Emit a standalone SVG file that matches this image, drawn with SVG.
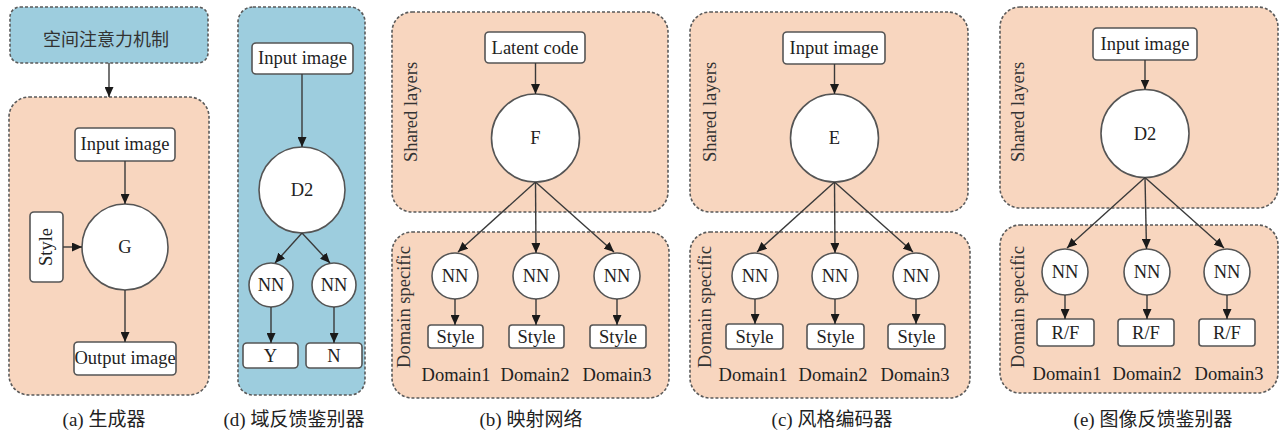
<svg xmlns="http://www.w3.org/2000/svg" width="1282" height="443" viewBox="0 0 1282 443">
  <style>
    .bg { fill: #ffffff; }
    .blue { fill: #9dcdde; stroke: #5a5a5a; stroke-width: 1.6; stroke-dasharray: 3 2; }
    .peach { fill: #f8d6bf; stroke: #5a5a5a; stroke-width: 1.6; stroke-dasharray: 3 2; }
    .box { fill: #ffffff; stroke: #555555; stroke-width: 1.6; }
    .circ { fill: #ffffff; stroke: #555555; stroke-width: 1.6; }
    .t { font-family: "Liberation Serif", "Times New Roman", serif; font-size: 18.5px; fill: #222222; text-anchor: middle; }
    .side { font-family: "Liberation Serif", "Times New Roman", serif; font-size: 18.5px; fill: #333333; text-anchor: middle; }
    .cap { font-family: "Liberation Serif", "Noto Sans CJK SC", serif; font-size: 19px; fill: #222222; text-anchor: middle; }
    .cjk { font-family: "Noto Sans CJK SC", sans-serif; font-size: 18px; fill: #333333; text-anchor: middle; }
    .edge { stroke: #3a3a3a; stroke-width: 1.4; fill: none; marker-end: url(#arr); }
  </style>
  <defs>
    <marker id="arr" markerUnits="userSpaceOnUse" markerWidth="10" markerHeight="9" refX="10" refY="4.5" orient="auto">
      <path d="M0,0 L10,4.5 L0,9 z" fill="#1a1a1a"/>
    </marker>
  </defs>

  <rect class="bg" x="0" y="0" width="1282" height="443"/>

  <!-- (a) generator -->
  <g id="panel-a">
    <rect class="blue" x="10" y="7" width="198" height="56" rx="10"/>
    <text class="cjk" x="106" y="46">空间注意力机制</text>
    <rect class="peach" x="9" y="97" width="200" height="298" rx="20"/>
    <text class="cap" x="104" y="426">(a) 生成器</text>
  </g>
  <g id="a-input"><rect class="box" x="75" y="128" width="100" height="33" rx="4"/><text class="t" x="125" y="150">Input image</text></g>
  <g id="a-G"><circle class="circ" cx="125" cy="247" r="43"/><text class="t" x="125" y="253">G</text></g>
  <g id="a-style"><rect class="box" x="30" y="212" width="33" height="70" rx="4"/><text class="t" transform="translate(52,247) rotate(-90)">Style</text></g>
  <g id="a-output"><rect class="box" x="74" y="342" width="102" height="33" rx="4"/><text class="t" x="125" y="364">Output image</text></g>

  <!-- (d) domain feedback discriminator -->
  <g id="panel-d">
    <rect class="blue" x="238" y="7" width="127" height="388" rx="15"/>
    <text class="cap" x="294" y="426">(d) 域反馈鉴别器</text>
  </g>
  <g id="d-input"><rect class="box" x="252" y="43" width="101" height="31" rx="4"/><text class="t" x="302.5" y="64">Input image</text></g>
  <g id="d-D2"><circle class="circ" cx="302" cy="190" r="43"/><text class="t" x="302" y="196">D2</text></g>
  <g id="d-nn1"><circle class="circ" cx="271" cy="285" r="22"/><text class="t" x="271" y="291">NN</text></g>
  <g id="d-nn2"><circle class="circ" cx="334" cy="285" r="22"/><text class="t" x="334" y="291">NN</text></g>
  <g id="d-Y"><rect class="box" x="243" y="343" width="55" height="25" rx="4"/><text class="t" x="270.5" y="362">Y</text></g>
  <g id="d-N"><rect class="box" x="306" y="343" width="56" height="25" rx="4"/><text class="t" x="334" y="362">N</text></g>

  <!-- (b) mapping network -->
  <g id="panel-b">
    <rect class="peach" x="392" y="12" width="276" height="200" rx="20"/>
    <rect class="peach" x="392" y="232" width="277" height="166" rx="20"/>
    <text class="side" transform="translate(417,112) rotate(-90)">Shared layers</text>
    <text class="side" transform="translate(410,307) rotate(-90)">Domain specific</text>
    <text class="t" x="456" y="381">Domain1</text>
    <text class="t" x="535" y="381">Domain2</text>
    <text class="t" x="617" y="381">Domain3</text>
    <text class="cap" x="531" y="426">(b) 映射网络</text>
  </g>
  <g id="b-latent"><rect class="box" x="485" y="32" width="100" height="31" rx="4"/><text class="t" x="535" y="54">Latent code</text></g>
  <g id="b-F"><circle class="circ" cx="535.5" cy="138" r="44"/><text class="t" x="535.5" y="144">F</text></g>
  <g id="b-nn1"><circle class="circ" cx="455" cy="276" r="23"/><text class="t" x="455" y="282">NN</text></g>
  <g id="b-nn2"><circle class="circ" cx="536" cy="276" r="23"/><text class="t" x="536" y="282">NN</text></g>
  <g id="b-nn3"><circle class="circ" cx="617" cy="276" r="23"/><text class="t" x="617" y="282">NN</text></g>
  <g id="b-style1"><rect class="box" x="428" y="325" width="55" height="23" rx="3"/><text class="t" x="455.5" y="343">Style</text></g>
  <g id="b-style2"><rect class="box" x="509" y="325" width="55" height="23" rx="3"/><text class="t" x="536.5" y="343">Style</text></g>
  <g id="b-style3"><rect class="box" x="590" y="325" width="56" height="23" rx="3"/><text class="t" x="618" y="343">Style</text></g>

  <!-- (c) style encoder -->
  <g id="panel-c">
    <rect class="peach" x="690" y="12" width="278" height="200" rx="20"/>
    <rect class="peach" x="690" y="232" width="280" height="166" rx="20"/>
    <text class="side" transform="translate(716,112) rotate(-90)">Shared layers</text>
    <text class="side" transform="translate(711,307) rotate(-90)">Domain specific</text>
    <text class="t" x="753" y="381">Domain1</text>
    <text class="t" x="833" y="381">Domain2</text>
    <text class="t" x="915" y="381">Domain3</text>
    <text class="cap" x="832" y="426">(c) 风格编码器</text>
  </g>
  <g id="c-input"><rect class="box" x="783" y="32" width="102" height="32" rx="4"/><text class="t" x="834" y="54">Input image</text></g>
  <g id="c-E"><circle class="circ" cx="834.5" cy="138" r="44"/><text class="t" x="834.5" y="144">E</text></g>
  <g id="c-nn1"><circle class="circ" cx="755" cy="276" r="23"/><text class="t" x="755" y="282">NN</text></g>
  <g id="c-nn2"><circle class="circ" cx="835" cy="276" r="23"/><text class="t" x="835" y="282">NN</text></g>
  <g id="c-nn3"><circle class="circ" cx="916" cy="276" r="23"/><text class="t" x="916" y="282">NN</text></g>
  <g id="c-style1"><rect class="box" x="726" y="324" width="57" height="25" rx="3"/><text class="t" x="754.5" y="343">Style</text></g>
  <g id="c-style2"><rect class="box" x="807" y="324" width="57" height="25" rx="3"/><text class="t" x="835.5" y="343">Style</text></g>
  <g id="c-style3"><rect class="box" x="888" y="324" width="57" height="25" rx="3"/><text class="t" x="916.5" y="343">Style</text></g>

  <!-- (e) image feedback discriminator -->
  <g id="panel-e">
    <rect class="peach" x="1000" y="7" width="278" height="201" rx="20"/>
    <rect class="peach" x="1000" y="225" width="278" height="168" rx="20"/>
    <text class="side" transform="translate(1024,112) rotate(-90)">Shared layers</text>
    <text class="side" transform="translate(1024,307) rotate(-90)">Domain specific</text>
    <text class="t" x="1067" y="380">Domain1</text>
    <text class="t" x="1147" y="380">Domain2</text>
    <text class="t" x="1229" y="380">Domain3</text>
    <text class="cap" x="1153" y="426">(e) 图像反馈鉴别器</text>
  </g>
  <g id="e-input"><rect class="box" x="1093" y="28" width="104" height="32" rx="4"/><text class="t" x="1145" y="50">Input image</text></g>
  <g id="e-D2"><circle class="circ" cx="1145" cy="133.5" r="44"/><text class="t" x="1145" y="139.5">D2</text></g>
  <g id="e-nn1"><circle class="circ" cx="1065" cy="272" r="23"/><text class="t" x="1065" y="278">NN</text></g>
  <g id="e-nn2"><circle class="circ" cx="1147" cy="272" r="23"/><text class="t" x="1147" y="278">NN</text></g>
  <g id="e-nn3"><circle class="circ" cx="1227" cy="272" r="23"/><text class="t" x="1227" y="278">NN</text></g>
  <g id="e-rf1"><rect class="box" x="1037" y="319" width="57" height="27" rx="3"/><text class="t" x="1065.5" y="339">R/F</text></g>
  <g id="e-rf2"><rect class="box" x="1118" y="319" width="56" height="27" rx="3"/><text class="t" x="1146" y="339">R/F</text></g>
  <g id="e-rf3"><rect class="box" x="1199" y="319" width="56" height="27" rx="3"/><text class="t" x="1227" y="339">R/F</text></g>

  <!-- connectors -->
  <g id="connectors">
    <line class="edge" x1="109" y1="63" x2="109" y2="97"/>
    <line class="edge" x1="125" y1="161" x2="125" y2="204"/>
    <line class="edge" x1="63" y1="247" x2="82" y2="247"/>
    <line class="edge" x1="125" y1="290" x2="125" y2="342"/>

    <line class="edge" x1="302" y1="74" x2="302" y2="147"/>
    <line class="edge" x1="302" y1="233" x2="275" y2="263"/>
    <line class="edge" x1="302" y1="233" x2="330" y2="263"/>
    <line class="edge" x1="271" y1="307" x2="271" y2="343"/>
    <line class="edge" x1="334" y1="307" x2="334" y2="343"/>

    <line class="edge" x1="535.5" y1="63" x2="535.5" y2="94"/>
    <line class="edge" x1="535.5" y1="182" x2="458" y2="252"/>
    <line class="edge" x1="535.5" y1="182" x2="536" y2="253"/>
    <line class="edge" x1="535.5" y1="182" x2="614" y2="252"/>
    <line class="edge" x1="455" y1="299" x2="455" y2="325"/>
    <line class="edge" x1="536" y1="299" x2="536" y2="325"/>
    <line class="edge" x1="617" y1="299" x2="617" y2="325"/>

    <line class="edge" x1="834.5" y1="64" x2="834.5" y2="94"/>
    <line class="edge" x1="834.5" y1="182" x2="757" y2="252"/>
    <line class="edge" x1="834.5" y1="182" x2="835" y2="253"/>
    <line class="edge" x1="834.5" y1="182" x2="913" y2="252"/>
    <line class="edge" x1="755" y1="299" x2="755" y2="324"/>
    <line class="edge" x1="835" y1="299" x2="835" y2="324"/>
    <line class="edge" x1="916" y1="299" x2="916" y2="324"/>

    <line class="edge" x1="1145" y1="60" x2="1145" y2="89.5"/>
    <line class="edge" x1="1145" y1="177.5" x2="1067" y2="248"/>
    <line class="edge" x1="1145" y1="177.5" x2="1146.5" y2="249"/>
    <line class="edge" x1="1145" y1="177.5" x2="1224" y2="248"/>
    <line class="edge" x1="1065" y1="295" x2="1065" y2="319"/>
    <line class="edge" x1="1147" y1="295" x2="1147" y2="319"/>
    <line class="edge" x1="1227" y1="295" x2="1227" y2="319"/>
  </g>
</svg>
